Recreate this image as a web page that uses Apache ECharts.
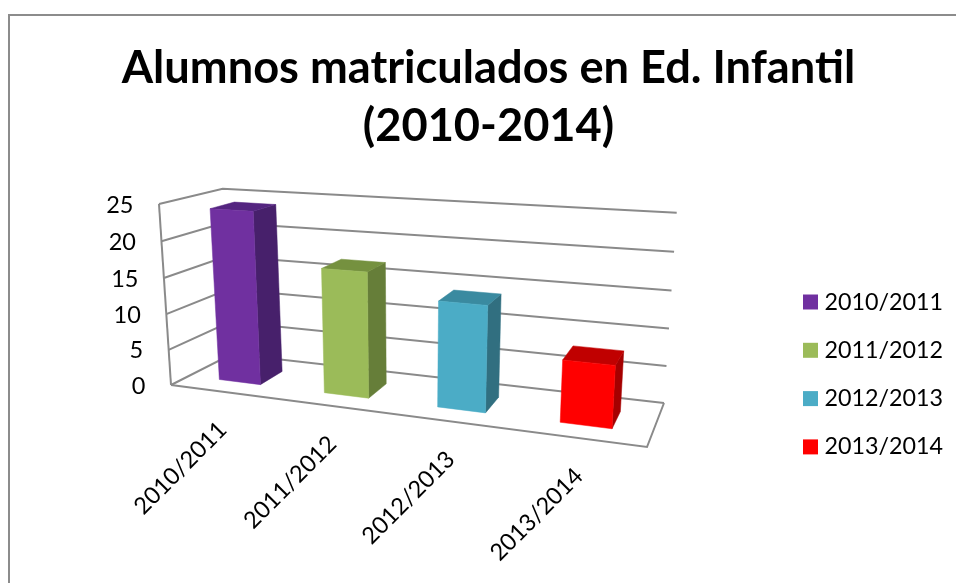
<!DOCTYPE html>
<html><head><meta charset="utf-8">
<style>html,body{margin:0;padding:0;background:#fff}#c{width:956px;height:583px}</style>
<script src="https://cdn.jsdelivr.net/npm/echarts@6/dist/echarts.min.js"></script>
</head><body><div id="c"></div>
<script>
const categories = ['2010/2011','2011/2012','2012/2013','2013/2014'];
const values = [24, 17, 14, 8];
const yTicks = [0, 5, 10, 15, 20, 25];
const frontColors = ['#7030A0','#9BBB59','#4BACC6','#FF0000'];
const sideColors  = ['#47206B','#667E39','#316F80','#A50000'];
const topColors   = ['#542580','#75913F','#3A8AA0','#C00000'];

const FONT = 'Lato, "Open Sans", sans-serif';
const GRID = {left: 171, top: 204, width: 476, height: 181};
// perspective frame: the flat grid is projected on to this box
const C = {
  flb:[171,385], frb:[647,447], blb:[232,354], brb:[664,403],
  flt:[159,204], frt:[659.6,235], blt:[222.7,188.7], brt:[676.7,212.7]
};
const odds = (t,a) => a*t/(1-t+a*t);
const mix = (p,q,t) => [p[0]+(q[0]-p[0])*t, p[1]+(q[1]-p[1])*t];
function project(px, py, d){
  const u = odds((px-GRID.left)/GRID.width, 0.856);
  const v = odds((GRID.top+GRID.height-py)/GRID.height, 0.965);
  const fb = mix(C.flb,C.frb,u), bb = mix(C.blb,C.brb,u);
  const ft = mix(C.flt,C.frt,u), bt = mix(C.blt,C.brt,u);
  return mix(mix(fb,ft,v), mix(bb,bt,v), d);
}
const LINE = {stroke:'#8a8a8a', lineWidth:2, fill:null};

function renderWalls(params, api){
  const y = api.coord([0, api.value(0)])[1];
  const L = GRID.left, R = GRID.left+GRID.width;
  const kids = [{type:'polyline', silent:true, shape:{points:[project(L,y,0),project(L,y,1),project(R,y,1)]}, style:LINE}];
  if (api.value(0) === yTicks[0]) {
    kids.push({type:'polyline', silent:true, shape:{points:[project(L,y,0),project(R,y,0),project(R,y,1)]}, style:LINE});
    const top = api.coord([0, yTicks[yTicks.length-1]])[1];
    kids.push({type:'line', silent:true, shape:{x1:project(L,y,0)[0],y1:project(L,y,0)[1],x2:project(L,top,0)[0],y2:project(L,top,0)[1]}, style:LINE});
  }
  return {type:'group', children:kids};
}
function renderYLabel(params, api){
  const val = api.value(0);
  const y = api.coord([0, val])[1];
  const p = project(GRID.left, y, 0);
  return {type:'text', silent:true, x:p[0]-25.5, y:p[1]+1,
    style:{text:String(val), font:'23.5px '+FONT, fill:'#000', textAlign:'right', textVerticalAlign:'middle'}};
}
function renderXLabel(params, api){
  const i = api.value(0);
  const c = api.coord([i, 0]);
  const p = project(c[0], c[1], 0);
  return {type:'text', silent:true, x:p[0], y:p[1]+34, rotation:Math.PI/4,
    style:{text:categories[i], font:'23.5px '+FONT, fill:'#000', textAlign:'right', textVerticalAlign:'middle'}};
}
function renderBar(params, api){
  const i = api.value(0), val = api.value(1);
  const c = api.coord([i, val]), b = api.coord([i, 0]);
  const w = api.size([1,0])[0] * 0.4;
  const x0 = c[0]-w/2, x1 = c[0]+w/2;
  const d0 = 0.3, d1 = 0.7;
  const P = (x,y,d) => project(x,y,d);
  const face = (pts, col) => ({type:'polygon', shape:{points:pts}, style:{fill:col, stroke:col, lineWidth:0.5}});
  return {type:'group', children:[
    face([P(x1,b[1],d0),P(x1,b[1],d1),P(x1,c[1],d1),P(x1,c[1],d0)], sideColors[i]),
    face([P(x0,c[1],d0),P(x1,c[1],d0),P(x1,c[1],d1),P(x0,c[1],d1)], topColors[i]),
    face([P(x0,b[1],d0),P(x1,b[1],d0),P(x1,c[1],d0),P(x0,c[1],d0)], frontColors[i])
  ]};
}

const barSeries = categories.map((name,i)=>({
  type:'custom', name, renderItem:renderBar, clip:false, z:5,
  itemStyle:{color:frontColors[i]},
  encode:{x:0,y:1}, data:[[i, values[i]]]
}));

const chart = echarts.init(document.getElementById('c'), null, {renderer:'canvas'});
chart.setOption({
  animation:false,
  backgroundColor:'#fff',
  title:{
    text:'Alumnos matriculados en Ed. Infantil\n(2010-2014)',
    left:483.5, top:34, textAlign:'center',
    textStyle:{fontFamily:FONT, fontWeight:'bold', fontSize:45.2, lineHeight:58, color:'#000'}
  },
  legend:{
    orient:'vertical', left:798, top:285.5, icon:'rect', itemWidth:15, itemHeight:15, itemGap:25.3,
    data:categories, selectedMode:false,
    textStyle:{fontFamily:FONT, fontSize:23.3, color:'#000', padding:[0,0,0,1.5]}
  },
  grid:{left:GRID.left, top:GRID.top, width:GRID.width, height:GRID.height},
  xAxis:{type:'category', data:categories, show:false},
  yAxis:{type:'value', min:0, max:25, interval:5, show:false},
  graphic:[{type:'polyline', shape:{points:[[9,583],[9,15],[956,15]]}, style:{stroke:'#8c8c8c', lineWidth:2, fill:null}, silent:true}],
  series:[
    {type:'custom', name:'walls', renderItem:renderWalls, clip:false, z:1, data:yTicks.map(v=>[v]), encode:{}},
    {type:'custom', name:'ylabels', renderItem:renderYLabel, clip:false, z:2, data:yTicks.map(v=>[v]), encode:{}},
    {type:'custom', name:'xlabels', renderItem:renderXLabel, clip:false, z:2, data:categories.map((c,i)=>[i]), encode:{}},
    ...barSeries
  ]
});
</script></body></html>
